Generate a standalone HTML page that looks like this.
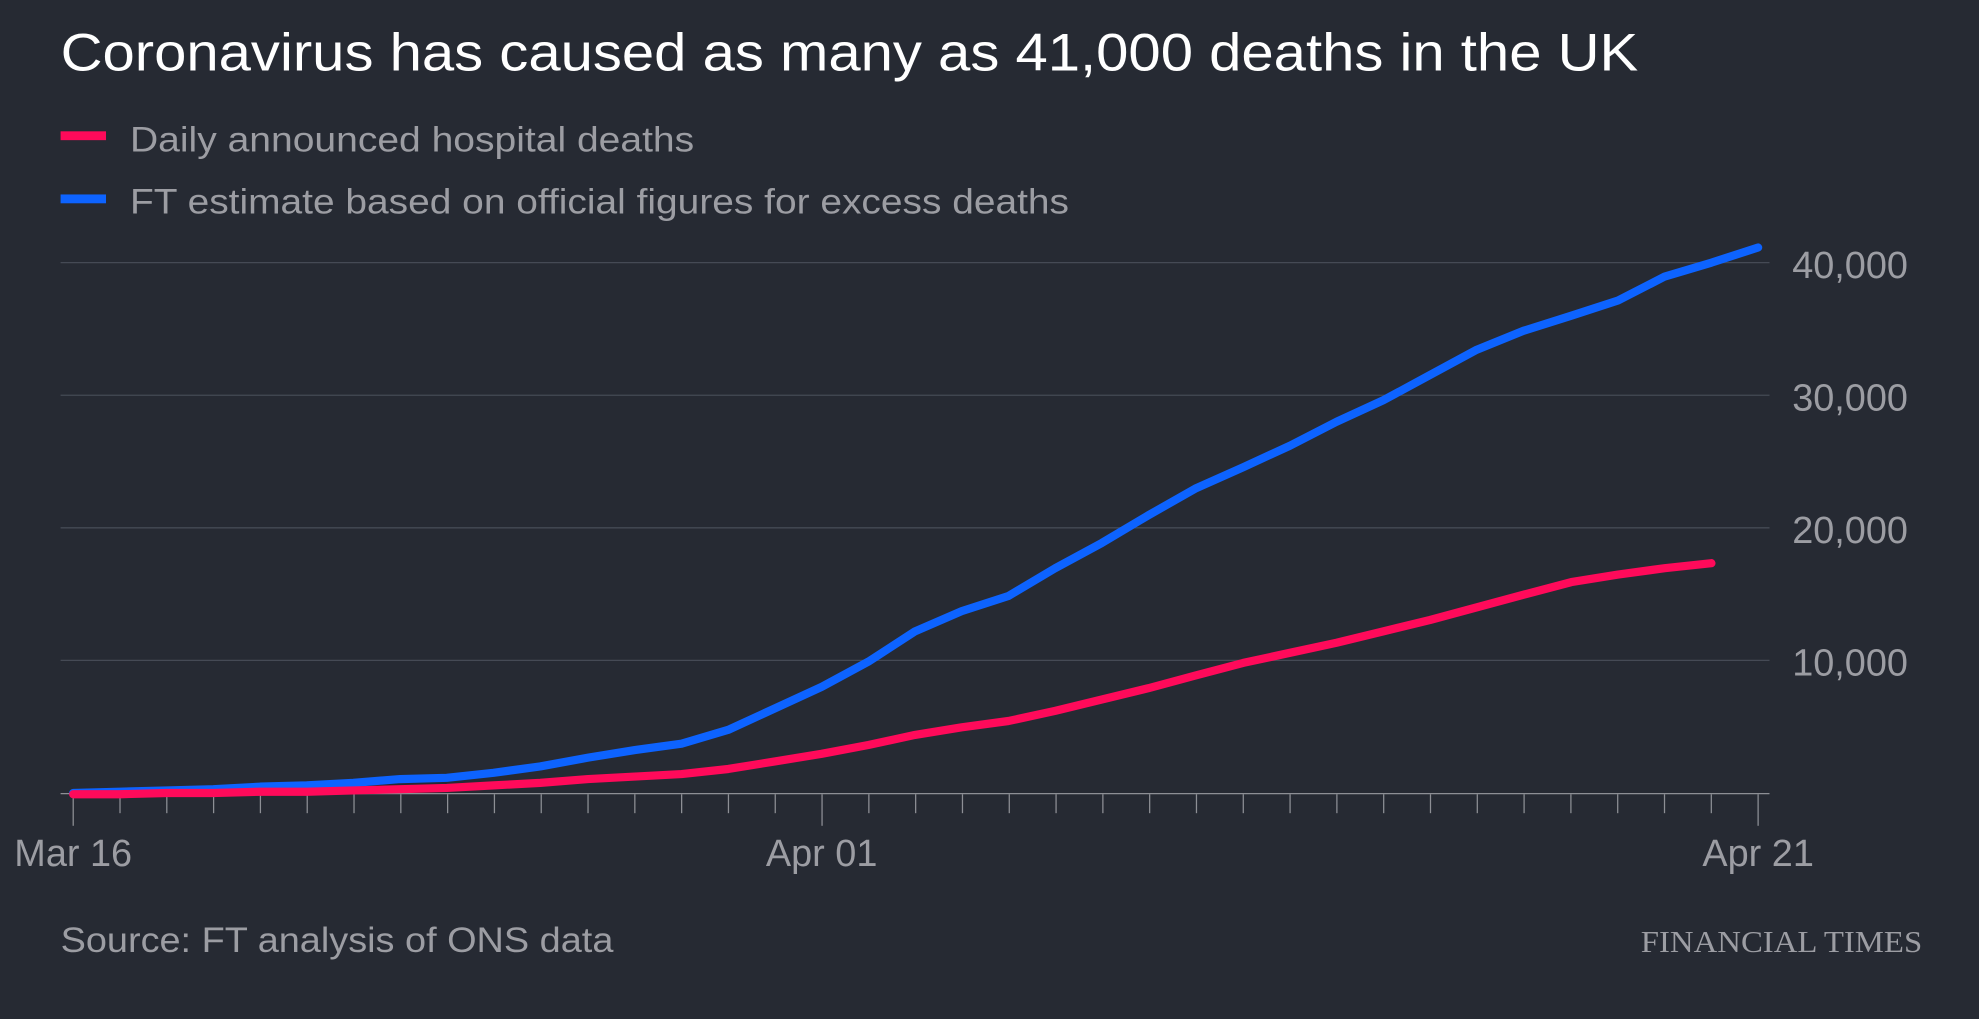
<!DOCTYPE html>
<html><head><meta charset="utf-8"><style>
html,body{margin:0;padding:0;background:#262a33;}
svg{display:block}
text{font-family:"Liberation Sans",sans-serif}
</style></head><body>
<svg width="1979" height="1019" viewBox="0 0 1568 807" preserveAspectRatio="none">
<rect width="1568" height="807" fill="#262a33"/>
<text x="48" y="56" font-size="42" fill="#ffffff" textLength="1250" lengthAdjust="spacingAndGlyphs">Coronavirus has caused as many as 41,000 deaths in the UK</text>
<rect x="48" y="104" width="36" height="7" fill="#ff0a5a"/>
<text x="103" y="120" font-size="28" fill="#9c9da3" textLength="447" lengthAdjust="spacingAndGlyphs">Daily announced hospital deaths</text>
<rect x="48" y="154" width="36" height="7" fill="#0d63ff"/>
<text x="103" y="169" font-size="28" fill="#9c9da3" textLength="744" lengthAdjust="spacingAndGlyphs">FT estimate based on official figures for excess deaths</text>
<g stroke="#454a55" stroke-width="1">
<line x1="48" y1="208" x2="1402" y2="208"/>
<line x1="48" y1="313" x2="1402" y2="313"/>
<line x1="48" y1="418" x2="1402" y2="418"/>
<line x1="48" y1="523" x2="1402" y2="523"/>
</g>
<line x1="48" y1="628.5" x2="1402" y2="628.5" stroke="#8d8f95" stroke-width="1"/>
<g stroke="#8d8f95" stroke-width="1" id="ticks"></g>
<g font-size="30" fill="#9c9da3">
<text x="1420" y="220">40,000</text>
<text x="1420" y="325">30,000</text>
<text x="1420" y="430">20,000</text>
<text x="1420" y="535">10,000</text>
<text x="58" y="686" text-anchor="middle">Mar 16</text>
<text x="651" y="686" text-anchor="middle">Apr 01</text>
<text x="1393" y="686" text-anchor="middle">Apr 21</text>
</g>
<polyline fill="none" stroke="#0d63ff" stroke-width="6.5" stroke-linejoin="round" stroke-linecap="round" points="58,628 95,627 132,626 169,625 206,623 243,622 280,620 317,617 354,616 391,612 428,607 466,600 503,594 540,589 577,578 614,561 651,544 688,524 725,500 762,484 799,472 836,450 873,430 910,408 947,387 985,370 1022,353 1059,334 1096,317 1133,297 1170,277 1207,262 1245,250 1282,238 1319,219 1356,208 1393,196"/>
<polyline fill="none" stroke="#ff0a5a" stroke-width="6.5" stroke-linejoin="round" stroke-linecap="round" points="58,629 95,629 132,628 169,628 206,627 243,627 280,626 317,625 354,624 391,622 428,620 466,617 503,615 540,613 577,609 614,603 651,597 688,590 725,582 762,576 799,571 836,563 873,554 910,545 947,535 985,525 1022,517 1059,509 1096,500 1133,491 1170,481 1207,471 1245,461 1282,455 1319,450 1356,446"/>
<text x="48" y="754" font-size="28" fill="#9c9da3" textLength="438" lengthAdjust="spacingAndGlyphs">Source: FT analysis of ONS data</text>
<text x="1523" y="754" font-size="24" fill="#9c9da3" text-anchor="end" style="font-family:'Liberation Serif',serif" textLength="223" lengthAdjust="spacingAndGlyphs">FINANCIAL TIMES</text>
</svg>
<script>
var g=document.getElementById('ticks');
for(var i=0;i<=36;i++){var x=58+i*37.083;var major=(i==0||i==16||i==36);
var l=document.createElementNS('http://www.w3.org/2000/svg','line');
l.setAttribute('x1',x);l.setAttribute('x2',x);l.setAttribute('y1',629);l.setAttribute('y2',major?654:644);g.appendChild(l);}
</script>
</body></html>
